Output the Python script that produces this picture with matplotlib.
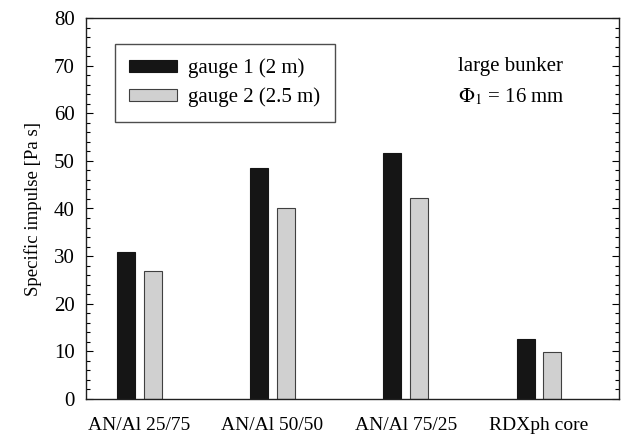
import matplotlib
matplotlib.use("Agg")
import matplotlib.pyplot as plt
import numpy as np
from matplotlib.ticker import MultipleLocator

categories = ["AN/Al 25/75", "AN/Al 50/50", "AN/Al 75/25", "RDXph core"]
gauge1 = [30.9, 48.5, 51.6, 12.7]
gauge2 = [26.9, 40.2, 42.3, 9.8]

plt.rcParams['font.family'] = ['Liberation Serif', 'DejaVu Serif']
plt.rcParams['mathtext.fontset'] = 'stix'

fig = plt.figure(figsize=(6.34, 4.36), dpi=100)
ax = fig.add_axes([86/634, 1-399/436, 533/634, 381/436])

x = np.arange(len(categories))
w = 0.135
ax.bar(x - 0.1, gauge1, w, color='#151515', edgecolor='#151515', linewidth=0.8, label='gauge 1 (2 m)')
ax.bar(x + 0.1, gauge2, w, color='#d0d0d0', edgecolor='#404040', linewidth=0.8, label='gauge 2 (2.5 m)')

ax.set_xlim(-0.4, 3.6)
ax.set_ylim(0, 80)
ax.set_xticks(x)
ax.set_xticklabels(categories, fontsize=14)
ax.tick_params(axis='x', length=0, pad=13)
ax.yaxis.set_major_locator(MultipleLocator(10))
ax.yaxis.set_minor_locator(MultipleLocator(2))
ax.tick_params(axis='y', which='major', direction='in', length=5, right=True, labelsize=15, width=0.8, pad=8)
ax.tick_params(axis='y', which='minor', direction='in', length=3, right=True, width=0.8)
for s in ax.spines.values():
    s.set_linewidth(1.0)
    s.set_color('#202020')

ax.set_ylabel("Specific impulse [Pa s]", fontsize=13.5, labelpad=9)

leg = ax.legend(loc='upper left', bbox_to_anchor=((114.7-86)/533, (399-44)/381),
                fontsize=15, frameon=True, fancybox=False, edgecolor='#202020',
                handlelength=2.3, handleheight=0.48, borderpad=0.7, labelspacing=0.45,
                handletextpad=0.53, borderaxespad=0)
leg.get_frame().set_linewidth(1.0)

ax.text((511-86)/533, (399-67)/381, "large bunker", transform=ax.transAxes, ha='center', va='center', fontsize=15)
ax.text((511-86)/533, (399-97)/381, r"$\Phi_1$ = 16 mm", transform=ax.transAxes, ha='center', va='center', fontsize=15)

fig.savefig("out.png", dpi=100)
